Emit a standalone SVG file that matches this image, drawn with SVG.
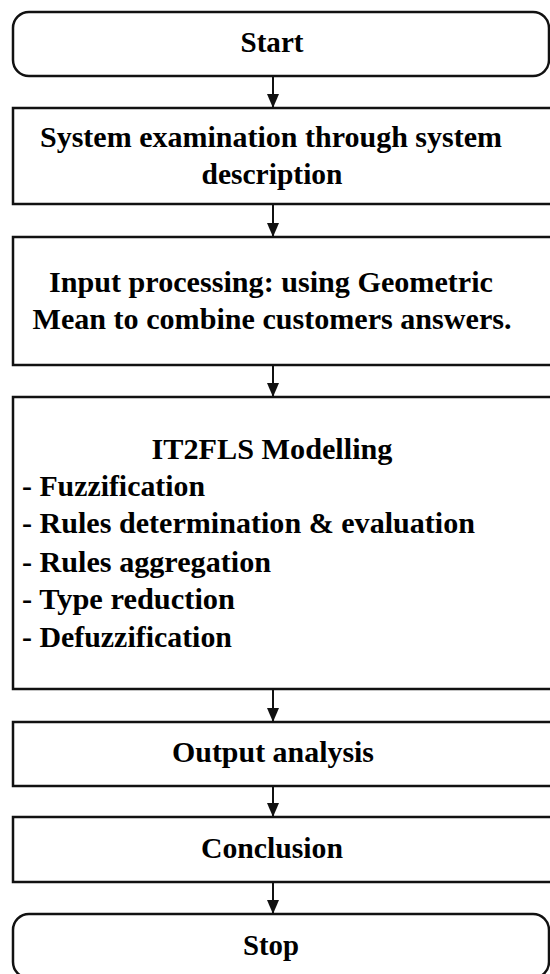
<svg xmlns="http://www.w3.org/2000/svg" width="550" height="974" viewBox="0 0 550 974">
<style>
.b{fill:#fff;stroke:#111;stroke-width:2.5}
.t{font-family:"Liberation Serif","Times New Roman",serif;font-weight:bold;font-size:29px;fill:#000}
.c{text-anchor:middle}
.l{stroke:#111;stroke-width:2;fill:none}
</style>
<defs>
<marker id="ah" markerWidth="14" markerHeight="12" refX="14" refY="6" orient="auto" markerUnits="userSpaceOnUse">
<path d="M0,0 L14,6 L0,12 Z" fill="#111"/>
</marker>
</defs>
<g id="start"><rect class="b" x="13" y="12" width="536" height="64" rx="16"/><text class="t c" x="272" y="52" textLength="63" lengthAdjust="spacingAndGlyphs">Start</text></g>
<g id="exam"><rect class="b" x="13" y="108" width="560" height="96"/><text class="t c" x="271" y="147" textLength="462" lengthAdjust="spacingAndGlyphs">System examination through system</text><text class="t c" x="272" y="184" textLength="141" lengthAdjust="spacingAndGlyphs">description</text></g>
<g id="input"><rect class="b" x="13" y="237" width="560" height="128"/><text class="t c" x="271" y="292" textLength="444" lengthAdjust="spacingAndGlyphs">Input processing: using Geometric</text><text class="t c" x="272" y="329" textLength="479" lengthAdjust="spacingAndGlyphs">Mean to combine customers answers.</text></g>
<g id="it2fls"><rect class="b" x="13" y="397" width="560" height="292"/><text class="t c" x="272" y="459" textLength="241" lengthAdjust="spacingAndGlyphs">IT2FLS Modelling</text>
<text class="t" x="22" y="496" textLength="183" lengthAdjust="spacingAndGlyphs">- Fuzzification</text>
<text class="t" x="22" y="533" textLength="453" lengthAdjust="spacingAndGlyphs">- Rules determination &amp; evaluation</text>
<text class="t" x="22" y="572" textLength="249" lengthAdjust="spacingAndGlyphs">- Rules aggregation</text>
<text class="t" x="22" y="609" textLength="213" lengthAdjust="spacingAndGlyphs">- Type reduction</text>
<text class="t" x="22" y="647" textLength="210" lengthAdjust="spacingAndGlyphs">- Defuzzification</text></g>
<g id="output"><rect class="b" x="13" y="722" width="560" height="64"/><text class="t c" x="273" y="762" textLength="202" lengthAdjust="spacingAndGlyphs">Output analysis</text></g>
<g id="conclusion"><rect class="b" x="13" y="817" width="560" height="65"/><text class="t c" x="272" y="858" textLength="142" lengthAdjust="spacingAndGlyphs">Conclusion</text></g>
<g id="stop"><rect class="b" x="13" y="914" width="536" height="64" rx="16"/><text class="t c" x="271" y="955" textLength="56" lengthAdjust="spacingAndGlyphs">Stop</text></g>
<g id="connectors">
<line class="l" x1="273" y1="76" x2="273" y2="108" marker-end="url(#ah)"/>
<line class="l" x1="273" y1="204" x2="273" y2="237" marker-end="url(#ah)"/>
<line class="l" x1="273" y1="365" x2="273" y2="397" marker-end="url(#ah)"/>
<line class="l" x1="273" y1="689" x2="273" y2="722" marker-end="url(#ah)"/>
<line class="l" x1="273" y1="786" x2="273" y2="817" marker-end="url(#ah)"/>
<line class="l" x1="273" y1="882" x2="273" y2="914" marker-end="url(#ah)"/>
</g>
</svg>
